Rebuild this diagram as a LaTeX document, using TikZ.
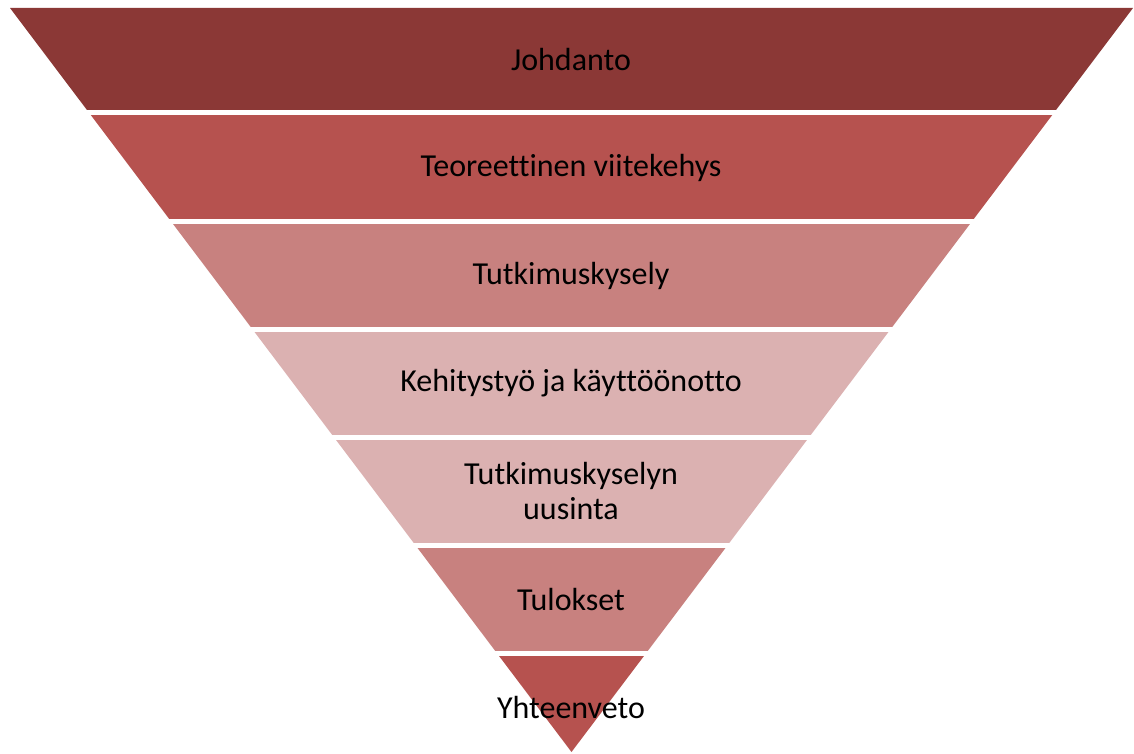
\documentclass[tikz,border=0pt]{standalone}
\usepackage{fontspec}
\setmainfont{Carlito}[RawFeature={-liga;-clig;-calt;-dlig}]
\definecolor{bandA}{HTML}{8B3836}
\definecolor{bandB}{HTML}{B6524F}
\definecolor{bandC}{HTML}{C8817F}
\definecolor{bandD}{HTML}{DBB1B1}
\tikzset{
  label/.style={font=\fontsize{32}{35}\selectfont, text=black, align=center, inner sep=0pt}
}
\begin{document}
\begin{tikzpicture}[x=1pt,y=-1pt]
\useasboundingbox (0,0) rectangle (1134,754);
% the funnel is one triangle, cut into bands by clipping
\foreach \i/\col in {0/bandA,1/bandB,2/bandC,3/bandD,4/bandD,5/bandC,6/bandB}{
  \pgfmathsetmacro{\tp}{8+108*\i}
  \pgfmathsetmacro{\bt}{min(110+108*\i,760)}
  \begin{scope}
    \clip (0,\tp) rectangle (1134,\bt);
    \fill[\col] (10,8) -- (1133,8) -- (571.5,752) -- cycle;
  \end{scope}
}
\node[label] (l1) at (571,60) {Johdanto};
\node[label] (l2) at (571,168) {Teoreettinen viitekehys};
\node[label] (l3) at (571,276) {Tutkimuskysely};
\node[label] (l4) at (571,383) {Kehitystyö ja käyttöönotto};
\node[label] (l5) at (571,491) {Tutkimuskyselyn\\uusinta};
\node[label] (l6) at (571,600) {Tulokset};
\node[label] (l7) at (571,707) {Yhteenveto};
\end{tikzpicture}
\end{document}
